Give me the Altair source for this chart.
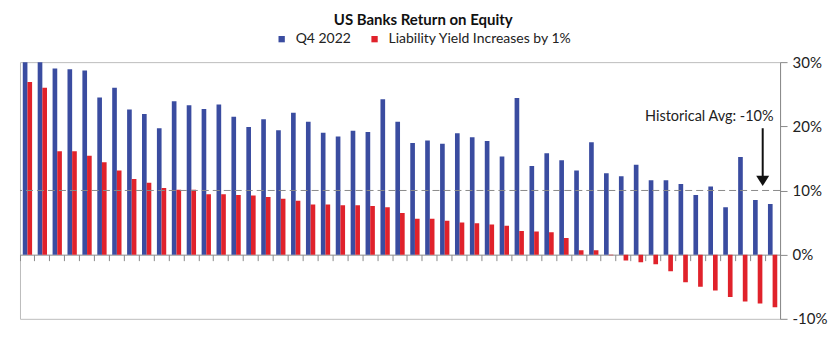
import altair as alt
import pandas as pd

# ---- data ----
q4_2022 = [31.0, 31.0, 29.0, 28.9, 28.7, 24.5, 26.0, 22.6, 21.9, 19.7,
           23.9, 23.3, 22.7, 23.4, 21.5, 19.9, 21.1, 19.4, 22.1, 20.7,
           19.0, 18.4, 19.3, 19.1, 24.2, 20.7, 17.4, 17.8, 17.3, 18.9,
           18.3, 17.7, 15.3, 24.4, 13.8, 15.8, 14.7, 13.1, 17.5, 12.7,
           12.2, 14.0, 11.6, 11.6, 11.0, 9.3, 10.6, 7.4, 15.2, 8.5, 7.9]
liability_up_1pct = [26.9, 26.0, 16.1, 16.1, 15.4, 14.4, 13.1, 11.8, 11.2, 10.4,
                     10.1, 10.1, 9.4, 9.4, 9.3, 9.2, 9.0, 8.7, 8.4, 7.8,
                     7.8, 7.7, 7.7, 7.6, 7.4, 6.5, 5.6, 5.6, 5.3, 5.0,
                     4.9, 4.7, 4.5, 3.7, 3.6, 3.5, 2.6, 0.7, 0.7, -0.1,
                     -0.9, -1.2, -1.5, -2.6, -4.3, -5.0, -5.6, -6.6, -7.3, -7.6, -8.2]
banks = [f"Bank {i + 1:02d}" for i in range(len(q4_2022))]
series_names = ["Q4 2022", "Liability Yield Increases by 1%"]
series_colors = ["#3A4CA0", "#E0222B"]
y_ticks = [-10, -5, 0, 5, 10, 15, 20, 25, 30]
hist_avg_line = [10]
annotation_text = ["Historical Avg: -10%"]

rows = []
for b, v1, v2 in zip(banks, q4_2022, liability_up_1pct):
    rows.append({"bank": b, "series": series_names[0], "roe": v1})
    rows.append({"bank": b, "series": series_names[1], "roe": v2})
df = pd.DataFrame(rows)

FONT = "Lato"
W, H = 761, 257
ZERO_OFFSET = H * 10 / 40  # distance of 0% line from plot bottom

x_enc = alt.X("bank:N", sort=banks,
              scale=alt.Scale(paddingInner=0, paddingOuter=0),
              axis=alt.Axis(orient="bottom", offset=-ZERO_OFFSET, labels=False,
                            title=None, ticks=True, tickSize=6, bandPosition=0,
                            tickColor="#8a8a8a", domainColor="#8a8a8a",
                            domainWidth=1, tickWidth=1))
y_scale = alt.Scale(domain=[-10, 30], nice=False, zero=False)

bars = alt.Chart(df).mark_bar(clip=True).encode(
    x=x_enc,
    xOffset=alt.XOffset("series:N", sort=series_names,
                        scale=alt.Scale(paddingOuter=0.6, paddingInner=0)),
    y=alt.Y("roe:Q", scale=y_scale,
            axis=alt.Axis(orient="right", values=y_ticks, title=None,
                          labelExpr="datum.value + '%'", grid=False,
                          tickSize=7, tickColor="#8a8a8a", domainColor="#8a8a8a",
                          labelFont=FONT, labelFontSize=15, labelColor="#222",
                          labelPadding=5, labelAlign="left")),
    color=alt.Color("series:N", sort=series_names,
                    scale=alt.Scale(domain=series_names, range=series_colors),
                    legend=alt.Legend(orient="none", direction="horizontal",
                                      legendX=255, legendY=-30, title=None,
                                      symbolType="square", symbolSize=40,
                                      symbolStrokeWidth=0, labelFont=FONT,
                                      labelFontSize=14, labelColor="#222",
                                      labelLimit=0, labelOffset=7,
                                      columnPadding=16)),
)

avg_df = pd.DataFrame({"y": hist_avg_line})
dash = alt.Chart(avg_df).mark_rule(color="#8a8a8a", strokeDash=[7, 4],
                                   strokeWidth=1).encode(y=alt.Y("y:Q", scale=y_scale))

ann_df = pd.DataFrame({"bank": [banks[-1]], "label": annotation_text,
                       "ty": [21.4], "a1": [19.7], "a2": [12.2], "tip": [11.5]})
ann_text = alt.Chart(ann_df).mark_text(align="right", baseline="middle", font=FONT,
                                       fontSize=14.5, color="#222", dx=1).encode(
    x=alt.X("bank:N", sort=banks), y=alt.Y("ty:Q", scale=y_scale), text="label:N")
ann_df2 = ann_df.assign(bank=banks[-2])
arrow_line = alt.Chart(ann_df2).mark_rule(color="#111", strokeWidth=2, xOffset=5).encode(
    x=alt.X("bank:N", sort=banks), y=alt.Y("a1:Q", scale=y_scale),
    y2="a2:Q")
arrow_head = alt.Chart(ann_df2).mark_point(
    shape="M-1,-0.8L1,-0.8L0,0.8Z", filled=True, color="#111", opacity=1,
    size=169, xOffset=5).encode(
    x=alt.X("bank:N", sort=banks), y=alt.Y("tip:Q", scale=y_scale))

chart = alt.layer(bars, dash, ann_text, arrow_line, arrow_head).properties(
    width=W, height=H,
    padding={"left": 11, "top": 5, "right": 5, "bottom": 5},
    title=alt.TitleParams("US Banks Return on Equity", anchor="middle",
                          frame="bounds", font=FONT, fontSize=15,
                          fontWeight="bold", color="#111", offset=4),
).configure_view(stroke="#bdbdbd", strokeWidth=1).configure_axis(
    labelFont=FONT)

chart.save("out.html", embed_options={"renderer": "svg", "actions": False})
